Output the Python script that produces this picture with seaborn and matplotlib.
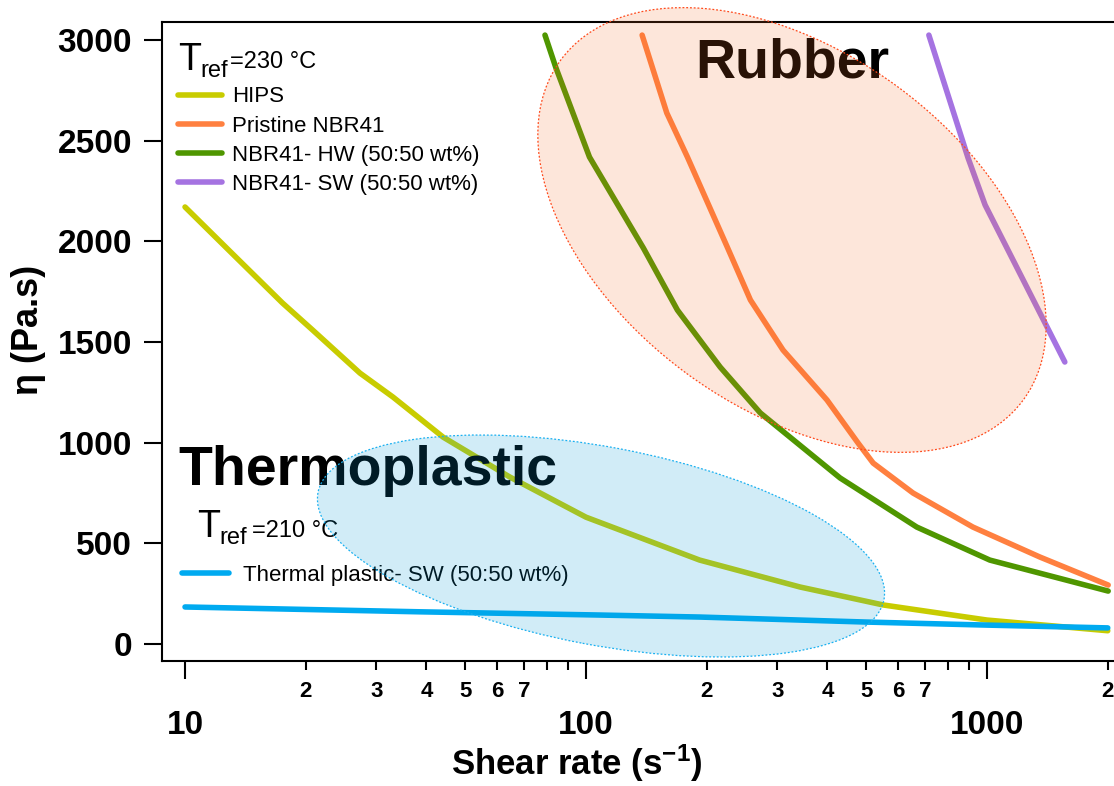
import pandas as pd
import matplotlib.pyplot as plt
import seaborn as sns
from matplotlib.patches import Ellipse
from matplotlib.lines import Line2D
from matplotlib.ticker import FixedLocator, FuncFormatter

# valores (shear rate en s^-1, eta en Pa.s)
hips_rate = [10, 13, 17.5, 20.8, 27.3, 33, 44, 64.5, 100, 192, 342, 551, 1000, 2000]
hips_eta = [2171, 1947, 1694, 1560, 1346, 1227, 1028, 830, 630, 417, 283, 194, 119, 66]

nbr_rate = [138, 159, 179, 225, 257, 310, 399, 477, 520, 654, 922, 1355, 2005]
nbr_eta = [3025, 2638, 2419, 1972, 1709, 1460, 1212, 998, 899, 750, 581, 432, 293]

hw_rate = [79, 84, 102, 139, 169, 216, 272, 430, 668, 1016, 2005]
hw_eta = [3025, 2866, 2419, 1967, 1659, 1376, 1148, 825, 581, 417, 263]

sw_rate = [716, 897, 989, 1563]
sw_eta = [3025, 2414, 2181, 1401]

tp_rate = [10, 38.5, 108, 192, 502, 1000, 2000]
tp_eta = [184, 160, 144, 134, 109, 94, 80]

names = ["HIPS", "Pristine NBR41", "NBR41- HW (50:50 wt%)", "NBR41- SW (50:50 wt%)",
         "Thermal plastic- SW (50:50 wt%)"]
colors = ["#c8cc00", "#ff8040", "#4f9600", "#a573e1", "#00aaf0"]

frames = []
for n, r, e in zip(names,
                   [hips_rate, nbr_rate, hw_rate, sw_rate, tp_rate],
                   [hips_eta, nbr_eta, hw_eta, sw_eta, tp_eta]):
    frames.append(pd.DataFrame({"rate": r, "eta": e, "muestra": n}))
df = pd.concat(frames, ignore_index=True)
palette = dict(zip(names, colors))

sns.set_style("ticks")
plt.rcParams["font.family"] = ["Liberation Sans", "DejaVu Sans"]
plt.rcParams["font.weight"] = "bold"
plt.rcParams["axes.labelweight"] = "bold"
for k in ["text.color", "axes.labelcolor", "xtick.color", "ytick.color", "axes.edgecolor"]:
    plt.rcParams[k] = "black"
plt.rcParams["mathtext.fontset"] = "custom"
plt.rcParams["mathtext.rm"] = "Liberation Sans:bold"
plt.rcParams["mathtext.it"] = "Liberation Sans:bold"
plt.rcParams["mathtext.bf"] = "Liberation Sans:bold"

fig = plt.figure(figsize=(11.14, 7.86), dpi=100)
ax = fig.add_axes([0.1454, 0.159, 0.8546, 0.813])

sns.lineplot(data=df, x="rate", y="eta", hue="muestra", palette=palette,
             estimator=None, linewidth=4, legend=False, ax=ax)

ax.set_xscale("log")
ax.set_xlim(8.76, 2073)
ax.set_ylim(-84.5, 3090)

# ticks
ax.xaxis.set_major_locator(FixedLocator([10, 100, 1000]))
ax.xaxis.set_major_formatter(FuncFormatter(lambda v, p: f"{v:g}"))
minors = [k * 10 ** d for d in (1, 2, 3) for k in range(2, 10) if k * 10 ** d <= 2000]
ax.xaxis.set_minor_locator(FixedLocator(minors))


def minor_fmt(v, p):
    k = int(round(v / 10 ** int(len(str(int(round(v)))) - 1)))
    return str(k) if 2 <= k <= 7 else ""


ax.xaxis.set_minor_formatter(FuncFormatter(minor_fmt))
ax.set_yticks(range(0, 3001, 500))

ax.tick_params(axis="x", which="major", length=13, width=1.5, pad=22, labelsize=24)
ax.tick_params(axis="x", which="minor", length=6.5, width=1.5, pad=8, labelsize=16)
ax.tick_params(axis="y", which="major", length=13, width=1.5, pad=8.6, labelsize=24)
ax.tick_params(top=False, right=False)

ax.spines["right"].set_visible(False)
for s in ["left", "bottom", "top"]:
    ax.spines[s].set_linewidth(1.5)

ax.set_xlabel(r"Shear rate (s$^{-1}$)", fontsize=25, fontweight="bold")
ax.xaxis.set_label_coords(0.436, -0.128)
ax.set_ylabel("η (Pa.s)", fontsize=26, fontweight="bold")
ax.yaxis.set_label_coords(-0.122, 0.518)

# leyendas
tr = fig.dpi_scale_trans
h1 = [Line2D([], [], color=palette[n], lw=4) for n in names[:4]]
leg1 = ax.legend(h1, names[:4], loc="upper left", bbox_to_anchor=(1.78, 6.995),
                 bbox_transform=tr, frameon=False, borderpad=0, borderaxespad=0,
                 handlelength=2.0, handletextpad=0.45, labelspacing=0.37,
                 prop={"size": 16, "weight": "normal"})
ax.add_artist(leg1)
h2 = [Line2D([], [], color=palette[names[4]], lw=4)]
ax.legend(h2, names[4:], loc="upper left", bbox_to_anchor=(1.82, 2.21),
          bbox_transform=tr, frameon=False, borderpad=0, borderaxespad=0,
          handlelength=2.1, handletextpad=0.63, prop={"size": 16, "weight": "normal"})

# textos T_ref
ax.text(1.78, 7.16, "T", transform=tr, fontsize=27, fontweight="normal", va="baseline")
ax.text(2.0, 7.09, "ref", transform=tr, fontsize=17, fontweight="normal", va="baseline")
ax.text(2.30, 7.18, "=230 °C", transform=tr, fontsize=17, fontweight="normal", va="baseline")
ax.text(1.97, 2.49, "T", transform=tr, fontsize=27, fontweight="normal", va="baseline")
ax.text(2.19, 2.42, "ref", transform=tr, fontsize=17, fontweight="normal", va="baseline")
ax.text(2.52, 2.49, "=210 °C", transform=tr, fontsize=17, fontweight="normal", va="baseline")

ax.text(6.95, 7.08, "Rubber", transform=tr, fontsize=40, va="baseline")
ax.text(1.78, 3.01, "Thermoplastic", transform=tr, fontsize=40, va="baseline")

# elipses encima de todo
fig.add_artist(Ellipse((7.92, 5.56), 5.74, 3.56, angle=-36.3, transform=tr,
                       facecolor=(245 / 255, 110 / 255, 40 / 255, 0.17),
                       edgecolor="#ff4a1c", linestyle=(0, (1.5, 1.5)), linewidth=0.9))
fig.add_artist(Ellipse((6.01, 2.40), 5.76, 1.98, angle=-10.7, transform=tr,
                       facecolor=(5 / 255, 155 / 255, 216 / 255, 0.18),
                       edgecolor="#1ab0f0", linestyle=(0, (1.5, 1.5)), linewidth=0.9))

fig.savefig("out.png", dpi=100)
